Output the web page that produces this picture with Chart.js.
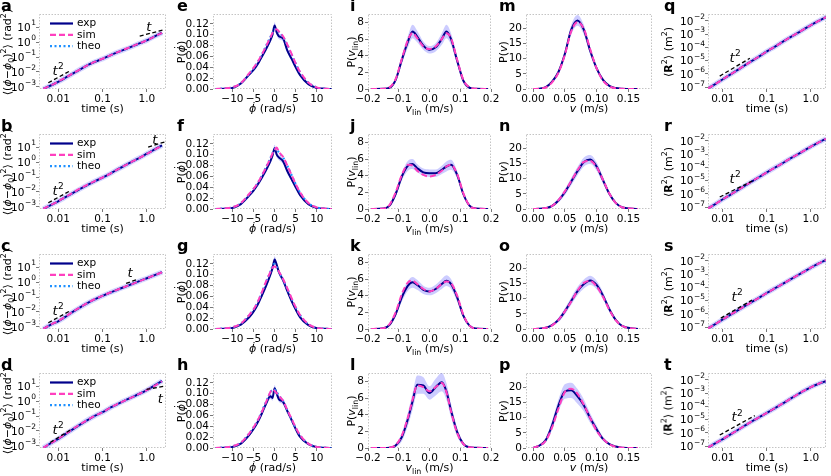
<!DOCTYPE html>
<html>
<head>
<meta charset="utf-8">
<script src="https://cdn.jsdelivr.net/npm/chart.js@4.4.0/dist/chart.umd.min.js"></script>
<style>
  body { margin: 0; width: 831px; height: 476px; position: relative; overflow: hidden; background: #fff; font-family: 'DejaVu Sans', sans-serif; color: #000; }
  .panel { position: absolute; }
  .letter { position: absolute; font-weight: bold; font-size: 16px; line-height: 16px; }
  .xt { position: absolute; font-size: 11px; line-height: 13px; white-space: nowrap; transform: translateX(-50%); }
  .yt { position: absolute; font-size: 11px; line-height: 13px; white-space: nowrap; transform: translate(-50%, -50%) rotate(-90deg); }
  sup, sub { font-size: 0.72em; line-height: 0; }
</style>
</head>
<body>
<script>
// ===== data =====
const msdTime = [0.0046, 0.007, 0.01, 0.015, 0.02, 0.03, 0.05, 0.07, 0.1, 0.15, 0.2, 0.3, 0.5, 0.7, 1.0, 1.5, 2.2];

// angular MSD (rad^2), panels a-d
const expA  = [7.4e-4, 1.3e-3, 2.2e-3, 4.3e-3, 7.0e-3, 1.4e-2, 3.2e-2, 5.0e-2, 7.5e-2, 0.13, 0.19, 0.30, 0.55, 0.85, 1.3, 2.4, 4.2];
const simA  = [7.6e-4, 1.3e-3, 2.3e-3, 4.4e-3, 7.1e-3, 1.4e-2, 3.2e-2, 5.1e-2, 7.7e-2, 0.13, 0.19, 0.31, 0.56, 0.86, 1.3, 2.4, 4.1];
const theoA = [7.5e-4, 1.3e-3, 2.2e-3, 4.3e-3, 7.1e-3, 1.4e-2, 3.3e-2, 5.1e-2, 7.6e-2, 0.13, 0.19, 0.30, 0.55, 0.85, 1.3, 2.3, 4.0];
const expB  = [7.4e-4, 1.4e-3, 2.4e-3, 4.7e-3, 7.6e-3, 1.5e-2, 3.4e-2, 5.6e-2, 9.2e-2, 0.17, 0.28, 0.53, 1.2, 2.0, 3.6, 7.0, 13];
const simB  = [7.5e-4, 1.4e-3, 2.4e-3, 4.8e-3, 7.8e-3, 1.6e-2, 3.5e-2, 5.7e-2, 9.3e-2, 0.17, 0.28, 0.53, 1.2, 2.0, 3.5, 6.8, 12.5];
const theoB = [7.4e-4, 1.4e-3, 2.4e-3, 4.7e-3, 7.7e-3, 1.5e-2, 3.4e-2, 5.6e-2, 9.1e-2, 0.17, 0.28, 0.52, 1.2, 2.0, 3.6, 6.9, 12.8];
const expC  = [7.4e-4, 1.5e-3, 2.4e-3, 5.0e-3, 9.0e-3, 1.9e-2, 4.5e-2, 7.5e-2, 0.12, 0.20, 0.28, 0.45, 0.80, 1.2, 1.8, 2.9, 4.6];
const simC  = [7.5e-4, 1.5e-3, 2.5e-3, 5.1e-3, 9.1e-3, 1.9e-2, 4.6e-2, 7.6e-2, 0.12, 0.20, 0.28, 0.45, 0.79, 1.2, 1.8, 2.9, 4.5];
const theoC = [7.4e-4, 1.5e-3, 2.4e-3, 5.0e-3, 9.0e-3, 1.9e-2, 4.5e-2, 7.4e-2, 0.12, 0.19, 0.27, 0.44, 0.79, 1.2, 1.8, 2.9, 4.6];
const expD  = [7.4e-4, 1.6e-3, 3.0e-3, 6.5e-3, 1.15e-2, 2.5e-2, 6.3e-2, 0.11, 0.18, 0.36, 0.55, 1.0, 2.0, 3.2, 5.4, 11, 22];
const simD  = [7.5e-4, 1.6e-3, 3.0e-3, 6.6e-3, 1.2e-2, 2.6e-2, 6.4e-2, 0.11, 0.18, 0.36, 0.56, 1.0, 2.0, 3.2, 5.3, 10.5, 21];
const theoD = [7.4e-4, 1.6e-3, 3.0e-3, 6.5e-3, 1.15e-2, 2.5e-2, 6.3e-2, 0.11, 0.18, 0.35, 0.55, 1.0, 2.0, 3.1, 5.3, 10.8, 21.5];

// translational MSD (m^2), panels q-t
const expQ  = [7.9e-8, 1.9e-7, 4.0e-7, 9.3e-7, 1.7e-6, 4.0e-6, 1.15e-5, 2.3e-5, 4.9e-5, 1.1e-4, 2.0e-4, 4.5e-4, 1.2e-3, 2.3e-3, 4.7e-3, 9.8e-3, 1.9e-2];
const simQ  = [8.0e-8, 1.9e-7, 4.0e-7, 9.4e-7, 1.7e-6, 4.0e-6, 1.16e-5, 2.3e-5, 4.9e-5, 1.1e-4, 2.0e-4, 4.5e-4, 1.2e-3, 2.3e-3, 4.7e-3, 9.7e-3, 1.9e-2];
const theoQ = [7.9e-8, 1.9e-7, 4.0e-7, 9.3e-7, 1.7e-6, 4.0e-6, 1.15e-5, 2.3e-5, 4.8e-5, 1.1e-4, 2.0e-4, 4.4e-4, 1.2e-3, 2.3e-3, 4.6e-3, 9.6e-3, 1.85e-2];
const expR  = [8.0e-8, 1.9e-7, 4.0e-7, 9.0e-7, 1.6e-6, 3.7e-6, 1.05e-5, 2.05e-5, 4.2e-5, 9.3e-5, 1.6e-4, 3.6e-4, 9.5e-4, 1.8e-3, 3.6e-3, 7.5e-3, 1.4e-2];
const simR  = [8.0e-8, 1.9e-7, 4.0e-7, 9.1e-7, 1.6e-6, 3.7e-6, 1.06e-5, 2.05e-5, 4.2e-5, 9.4e-5, 1.6e-4, 3.6e-4, 9.5e-4, 1.8e-3, 3.6e-3, 7.4e-3, 1.4e-2];
const theoR = [8.0e-8, 1.9e-7, 4.0e-7, 9.0e-7, 1.6e-6, 3.7e-6, 1.05e-5, 2.0e-5, 4.2e-5, 9.2e-5, 1.6e-4, 3.5e-4, 9.4e-4, 1.8e-3, 3.5e-3, 7.3e-3, 1.35e-2];
const expS  = [8.0e-8, 1.9e-7, 3.9e-7, 8.8e-7, 1.55e-6, 3.5e-6, 9.5e-6, 1.85e-5, 3.8e-5, 8.2e-5, 1.4e-4, 3.1e-4, 8.0e-4, 1.5e-3, 3.0e-3, 6.2e-3, 1.15e-2];
const simS  = [8.0e-8, 1.9e-7, 3.9e-7, 8.9e-7, 1.55e-6, 3.5e-6, 9.6e-6, 1.85e-5, 3.8e-5, 8.3e-5, 1.4e-4, 3.1e-4, 8.0e-4, 1.5e-3, 3.0e-3, 6.1e-3, 1.15e-2];
const theoS = [8.0e-8, 1.9e-7, 3.9e-7, 8.8e-7, 1.55e-6, 3.5e-6, 9.5e-6, 1.8e-5, 3.8e-5, 8.1e-5, 1.4e-4, 3.0e-4, 7.9e-4, 1.5e-3, 2.9e-3, 6.0e-3, 1.1e-2];
const expT  = [7.9e-8, 1.8e-7, 3.5e-7, 7.9e-7, 1.4e-6, 3.2e-6, 8.9e-6, 1.66e-5, 3.2e-5, 7.1e-5, 1.26e-4, 2.8e-4, 7.9e-4, 1.5e-3, 2.8e-3, 5.0e-3, 7.9e-3];
const simT  = [8.0e-8, 1.8e-7, 3.5e-7, 8.0e-7, 1.4e-6, 3.2e-6, 9.0e-6, 1.67e-5, 3.2e-5, 7.2e-5, 1.27e-4, 2.8e-4, 8.0e-4, 1.5e-3, 2.8e-3, 5.1e-3, 8.1e-3];
const theoT = [7.9e-8, 1.8e-7, 3.5e-7, 7.9e-7, 1.4e-6, 3.2e-6, 8.9e-6, 1.65e-5, 3.2e-5, 7.0e-5, 1.25e-4, 2.8e-4, 7.8e-4, 1.5e-3, 2.8e-3, 5.0e-3, 7.8e-3];

// guide lines [t, value] and their labels
const guideT2A = [[0.006, 1.9e-3], [0.0186, 1.2e-2]];
const guideTA  = [[0.69, 2.5], [2.3, 6.3]];
const guideT2B = [[0.006, 1.9e-3], [0.0186, 1.2e-2]];
const guideTB  = [[1.07, 10], [2.5, 22]];
const guideT2C = [[0.006, 1.9e-3], [0.0186, 1.2e-2]];
const guideTC  = [[0.34, 0.82], [0.59, 1.45]];
const guideT2D = [[0.0066, 1.7e-3], [0.0186, 1.15e-2]];
const guideTD  = [[0.98, 6], [2.5, 10]];
const guideT2Q = [[0.0085, 6.9e-7], [0.041, 1.5e-5]];
const guideT2R = [[0.0085, 5.9e-7], [0.046, 9.3e-6]];
const guideT2S = [[0.009, 4.9e-7], [0.046, 1.1e-5]];
const guideT2T = [[0.0085, 7.0e-7], [0.053, 2.0e-5]];
const notesA = [{x: 0.01, y: 1.35e-2, sup: '2'}, {x: 1.1, y: 11.7}];
const notesB = [{x: 0.01, y: 1.35e-2, sup: '2'}, {x: 1.5, y: 31}];
const notesC = [{x: 0.01, y: 1.35e-2, sup: '2'}, {x: 0.42, y: 4.6}];
const notesD = [{x: 0.01, y: 1.3e-2, sup: '2'}, {x: 2.0, y: 1.6}];
const notesQ = [{x: 0.019, y: 1.9e-5, sup: '2'}];
const notesR = [{x: 0.019, y: 1.6e-5, sup: '2'}];
const notesS = [{x: 0.021, y: 2.2e-5, sup: '2'}];
const notesT = [{x: 0.021, y: 1.7e-5, sup: '2'}];
const legendLabels = ['exp', 'sim', 'theo'];

// angular velocity distributions, panels e-h
const phiDotX = [-14, -12, -10, -8, -6, -5, -4, -3, -2, -1, -0.5, 0, 0.5, 1, 2, 3, 4, 5, 6, 8, 10, 12, 13.5];
const expE  = [0, 0.0005, 0.002, 0.010, 0.027, 0.035, 0.046, 0.060, 0.074, 0.090, 0.100, 0.117, 0.104, 0.097, 0.093, 0.071, 0.056, 0.040, 0.026, 0.009, 0.002, 0.0005, 0];
const simE  = [0, 0.001, 0.003, 0.011, 0.029, 0.039, 0.050, 0.064, 0.079, 0.095, 0.103, 0.108, 0.110, 0.106, 0.097, 0.082, 0.065, 0.047, 0.032, 0.012, 0.003, 0.0005, 0];
const theoE = [0, 0.001, 0.003, 0.011, 0.028, 0.038, 0.050, 0.064, 0.080, 0.096, 0.104, 0.110, 0.109, 0.105, 0.096, 0.081, 0.064, 0.047, 0.031, 0.012, 0.003, 0.0005, 0];
const expF  = [0, 0.0005, 0.002, 0.009, 0.025, 0.034, 0.045, 0.058, 0.072, 0.088, 0.098, 0.112, 0.100, 0.095, 0.088, 0.070, 0.055, 0.040, 0.026, 0.009, 0.002, 0.0005, 0];
const simF  = [0, 0.001, 0.003, 0.011, 0.028, 0.037, 0.048, 0.062, 0.077, 0.093, 0.102, 0.108, 0.113, 0.105, 0.096, 0.080, 0.063, 0.046, 0.031, 0.011, 0.003, 0.0005, 0];
const theoF = [0, 0.001, 0.003, 0.011, 0.027, 0.037, 0.048, 0.062, 0.078, 0.094, 0.103, 0.110, 0.110, 0.104, 0.095, 0.080, 0.063, 0.046, 0.031, 0.011, 0.003, 0.0005, 0];
const expG  = [0, 0.0005, 0.002, 0.008, 0.022, 0.032, 0.045, 0.062, 0.080, 0.100, 0.112, 0.128, 0.118, 0.105, 0.090, 0.070, 0.052, 0.036, 0.022, 0.007, 0.0015, 0.0003, 0];
const simG  = [0, 0.001, 0.003, 0.010, 0.026, 0.036, 0.050, 0.068, 0.088, 0.105, 0.113, 0.115, 0.112, 0.106, 0.092, 0.075, 0.057, 0.040, 0.026, 0.009, 0.002, 0.0004, 0];
const theoG = [0, 0.001, 0.003, 0.010, 0.026, 0.036, 0.050, 0.068, 0.087, 0.106, 0.116, 0.120, 0.114, 0.105, 0.091, 0.074, 0.056, 0.040, 0.026, 0.009, 0.002, 0.0004, 0];
const expH  = [0, 0.0005, 0.002, 0.008, 0.024, 0.035, 0.048, 0.064, 0.082, 0.095, 0.092, 0.110, 0.100, 0.090, 0.085, 0.068, 0.052, 0.035, 0.021, 0.007, 0.0015, 0.0003, 0];
const simH  = [0, 0.001, 0.003, 0.010, 0.027, 0.038, 0.051, 0.067, 0.085, 0.103, 0.108, 0.105, 0.101, 0.096, 0.087, 0.070, 0.054, 0.038, 0.024, 0.008, 0.002, 0.0004, 0];
const theoH = [0, 0.001, 0.003, 0.010, 0.027, 0.038, 0.051, 0.068, 0.086, 0.102, 0.107, 0.107, 0.103, 0.097, 0.087, 0.070, 0.053, 0.037, 0.024, 0.008, 0.002, 0.0004, 0];
const errPhi = [0, 0.0003, 0.001, 0.002, 0.003, 0.003, 0.004, 0.004, 0.005, 0.005, 0.005, 0.006, 0.005, 0.005, 0.005, 0.004, 0.004, 0.003, 0.003, 0.002, 0.001, 0.0003, 0];

// linear velocity distributions, panels i-l
const vlinX = [-0.19, -0.15, -0.13, -0.11, -0.09, -0.07, -0.055, -0.04, -0.02, 0, 0.02, 0.04, 0.055, 0.07, 0.09, 0.11, 0.13, 0.15, 0.19];
const expI = [0, 0.02, 0.15, 1.1, 3.5, 5.7, 6.9, 6.3, 5.2, 4.7, 5.0, 6.0, 6.9, 6.0, 3.4, 1.0, 0.15, 0.02, 0];
const simI = [0, 0.03, 0.2, 1.2, 3.6, 5.9, 6.7, 6.1, 5.1, 4.8, 5.1, 6.0, 6.7, 6.1, 3.5, 1.1, 0.2, 0.03, 0];
const errI = [0, 0.02, 0.1, 0.3, 0.5, 0.7, 0.8, 0.7, 0.5, 0.45, 0.5, 0.7, 0.8, 0.7, 0.5, 0.3, 0.1, 0.02, 0];
const expJ = [0, 0.05, 0.4, 1.8, 3.9, 5.2, 5.4, 4.9, 4.4, 4.3, 4.3, 4.7, 5.1, 5.3, 4.1, 1.8, 0.4, 0.05, 0];
const simJ = [0, 0.05, 0.5, 2.0, 4.1, 5.3, 5.2, 4.6, 4.1, 3.9, 4.1, 4.6, 5.1, 5.3, 4.2, 1.9, 0.4, 0.05, 0];
const errJ = [0, 0.02, 0.1, 0.3, 0.45, 0.6, 0.6, 0.5, 0.45, 0.45, 0.45, 0.5, 0.6, 0.6, 0.45, 0.3, 0.1, 0.02, 0];
const expK = [0, 0.08, 0.5, 1.8, 3.8, 5.2, 5.6, 5.3, 4.7, 4.5, 4.8, 5.4, 5.8, 5.4, 3.8, 1.6, 0.4, 0.05, 0];
const simK = [0, 0.1, 0.6, 2.0, 4.2, 5.6, 5.8, 5.4, 4.8, 4.5, 4.8, 5.4, 5.7, 5.5, 4.0, 1.7, 0.4, 0.05, 0];
const errK = [0, 0.02, 0.1, 0.3, 0.5, 0.6, 0.65, 0.6, 0.5, 0.45, 0.5, 0.6, 0.65, 0.6, 0.5, 0.3, 0.1, 0.02, 0];
const expL = [0, 0, 0.03, 0.3, 1.3, 3.5, 5.6, 7.6, 7.5, 6.6, 7.3, 7.9, 6.8, 4.5, 1.9, 0.5, 0.08, 0.02, 0];
const simL = [0, 0, 0.05, 0.35, 1.5, 3.7, 5.8, 7.5, 7.3, 6.8, 7.3, 7.8, 6.7, 4.4, 1.8, 0.5, 0.08, 0.02, 0];
const errL = [0, 0, 0.02, 0.2, 0.5, 0.8, 1.0, 1.1, 1.0, 0.8, 1.0, 1.1, 1.0, 0.8, 0.5, 0.2, 0.05, 0.01, 0];

// speed distributions, panels m-p
const speedX = [0, 0.01, 0.02, 0.03, 0.04, 0.05, 0.06, 0.07, 0.08, 0.09, 0.10, 0.11, 0.12, 0.13, 0.14, 0.165];
const expM = [0, 0.1, 0.6, 2.4, 5.6, 11.5, 19.5, 22.6, 19.5, 12.5, 6.8, 3.0, 1.0, 0.3, 0.1, 0];
const simM = [0, 0.1, 0.5, 2.2, 5.4, 11.2, 19.0, 22.0, 19.8, 13.0, 6.8, 2.8, 0.9, 0.2, 0.05, 0];
const errM = [0, 0.05, 0.2, 0.5, 0.8, 1.2, 1.6, 1.8, 1.6, 1.2, 0.8, 0.5, 0.2, 0.1, 0.05, 0];
const expN = [0, 0.05, 0.3, 1.0, 2.8, 5.5, 9.0, 12.5, 15.5, 16.3, 14.0, 9.5, 5.0, 2.0, 0.6, 0];
const simN = [0, 0.05, 0.3, 1.0, 2.9, 5.8, 9.2, 12.8, 15.5, 15.8, 13.8, 9.6, 5.1, 2.0, 0.6, 0];
const errN = [0, 0.05, 0.2, 0.4, 0.7, 1.0, 1.2, 1.4, 1.5, 1.5, 1.4, 1.1, 0.7, 0.4, 0.1, 0];
const expO = [0, 0.1, 0.4, 1.3, 3.0, 5.8, 9.2, 12.5, 14.8, 16.0, 14.5, 11.0, 6.5, 3.0, 1.0, 0];
const simO = [0, 0.1, 0.4, 1.2, 3.0, 5.8, 9.0, 12.6, 15.2, 15.8, 14.0, 10.6, 6.3, 2.9, 1.0, 0];
const errO = [0, 0.05, 0.2, 0.4, 0.7, 1.0, 1.2, 1.4, 1.5, 1.5, 1.4, 1.2, 0.8, 0.4, 0.15, 0];
const expP = [0, 0.8, 2.6, 7.5, 14.0, 18.6, 19.0, 17.0, 14.0, 9.8, 6.2, 3.0, 1.3, 0.5, 0.1, 0];
const simP = [0, 0.8, 2.4, 6.8, 13.0, 18.4, 19.5, 17.8, 14.2, 9.8, 5.7, 3.0, 1.2, 0.4, 0.1, 0];
const errP = [0, 0.3, 0.8, 1.5, 2.0, 2.4, 2.5, 2.4, 2.0, 1.6, 1.2, 0.7, 0.3, 0.15, 0.05, 0];

// tick values
const msdTicksX = [0.01, 0.1, 1];
const phiTicksY = [1e-3, 1e-2, 1e-1, 1, 10];
const r2TicksY = [1e-7, 1e-6, 1e-5, 1e-4, 1e-3, 1e-2];
const phiDotTicksX = [-10, -5, 0, 5, 10];
const phiDotTicksY = [0, 0.02, 0.04, 0.06, 0.08, 0.10, 0.12];
const vlinTicksX = [-0.2, -0.1, 0, 0.1, 0.2];
const vlinTicksY = [0, 2, 4, 6, 8];
const speedTicksX = [0, 0.05, 0.1, 0.15];
const speedTicksY = [0, 5, 10, 15, 20];

// ===== layout =====
const COLS = [{l: 39, r: 166}, {l: 213, r: 332}, {l: 368, r: 491}, {l: 526, r: 652}, {l: 708, r: 826}];
const ROWS = [14, 134, 254, 373];
const PLOT_H = 75, PAD_L = 34, PAD_T = 8, PAD_R = 10, PAD_B = 16;
const LETTER_X = [1, 177, 350, 499, 664];
const YTITLE_X = [7, 181, 351, 503, 668];

const NAVY = '#00008b', PINK = '#ff3fbf', SKY = '#1e90ff';
const BAND = 'rgba(110,110,255,0.35)', GLOW = 'rgba(120,120,255,0.3)';

Chart.defaults.font.family = "'DejaVu Sans', sans-serif";
Chart.defaults.color = '#000';

const minus = s => s.replace('-', '−');
const fmtTime = v => v >= 1 ? v.toFixed(1) : String(v);

function pts(xs, ys) { return xs.map((x, i) => ({x, y: ys[i]})); }

function curve(xs, ys, color, dash, width) {
  return { data: pts(xs, ys), borderColor: color, borderDash: dash, borderWidth: width,
    pointRadius: 0, fill: false, cubicInterpolationMode: 'monotone' };
}

function band(xs, ys, err) {
  return [
    { data: xs.map((x, i) => ({x, y: ys[i] + err[i]})), borderWidth: 0, pointRadius: 0, fill: false, cubicInterpolationMode: 'monotone' },
    { data: xs.map((x, i) => ({x, y: Math.max(ys[i] - err[i], 0)})), borderWidth: 0, pointRadius: 0,
      fill: '-1', backgroundColor: BAND, cubicInterpolationMode: 'monotone' },
  ];
}

function guide(p) {
  return { data: p.map(q => ({x: q[0], y: q[1]})), borderColor: '#000', borderDash: [4, 2.5],
    borderWidth: 1.3, pointRadius: 0, fill: false };
}

const framePlugin = {
  id: 'frame',
  beforeDatasetsDraw(chart) {
    const {ctx, chartArea: a} = chart;
    ctx.save();
    ctx.strokeStyle = '#c4c4c4';
    ctx.lineWidth = 1;
    ctx.setLineDash([1.5, 1.5]);
    ctx.strokeRect(a.left + 0.5, a.top + 0.5, a.right - a.left - 1, a.bottom - a.top - 1);
    ctx.restore();
  },
};

// power-of-ten labels for the log y axes, with a proper raised exponent
const powTickPlugin = {
  id: 'powTicks',
  afterDraw(chart) {
    const s = chart.scales.y;
    if (s.type !== 'logarithmic') return;
    const ctx = chart.ctx, right = chart.chartArea.left - 3;
    ctx.save();
    ctx.fillStyle = '#000';
    ctx.textAlign = 'left';
    ctx.textBaseline = 'alphabetic';
    for (const t of s.ticks) {
      const py = s.getPixelForValue(t.value);
      const e = minus(String(Math.round(Math.log10(t.value))));
      ctx.font = "7.5px 'DejaVu Sans'";
      const ew = ctx.measureText(e).width;
      ctx.font = "10.5px 'DejaVu Sans'";
      const bw = ctx.measureText('10').width;
      const x0 = right - ew - bw - 0.5;
      ctx.fillText('10', x0, py + 3.8);
      ctx.font = "7.5px 'DejaVu Sans'";
      ctx.fillText(e, x0 + bw + 0.5, py - 1.6);
    }
    ctx.restore();
  },
};

function notesPlugin(items) {
  return {
    id: 'notes',
    afterDatasetsDraw(chart) {
      const {ctx} = chart, sx = chart.scales.x, sy = chart.scales.y;
      ctx.save();
      ctx.fillStyle = '#000';
      ctx.textAlign = 'left';
      ctx.textBaseline = 'alphabetic';
      for (const n of items) {
        const px = sx.getPixelForValue(n.x), py = sy.getPixelForValue(n.y);
        ctx.font = "italic 13px 'DejaVu Sans'";
        const w = ctx.measureText('t').width;
        let tw = w;
        if (n.sup) { ctx.font = "9px 'DejaVu Sans'"; tw += ctx.measureText(n.sup).width + 0.5; }
        const x0 = px - tw / 2;
        ctx.font = "italic 13px 'DejaVu Sans'";
        ctx.fillText('t', x0, py + 4.7);
        if (n.sup) { ctx.font = "9px 'DejaVu Sans'"; ctx.fillText(n.sup, x0 + w + 0.5, py - 1); }
      }
      ctx.restore();
    },
  };
}

const legendPlugin = {
  id: 'inlegend',
  afterDatasetsDraw(chart) {
    const {ctx, chartArea: a} = chart;
    const styles = [[NAVY, []], [PINK, [6, 3]], [SKY, [2, 2.5]]];
    ctx.save();
    ctx.font = "10.5px 'DejaVu Sans'";
    ctx.textBaseline = 'middle';
    legendLabels.forEach((label, i) => {
      const y = a.top + 9.5 + i * 11.3;
      ctx.strokeStyle = styles[i][0];
      ctx.lineWidth = 2.2;
      ctx.setLineDash(styles[i][1]);
      ctx.beginPath();
      ctx.moveTo(a.left + 11, y);
      ctx.lineTo(a.left + 34, y);
      ctx.stroke();
      ctx.fillStyle = '#000';
      ctx.fillText(label, a.left + 38, y);
    });
    ctx.restore();
  },
};

function axis(a, dir) {
  return {
    type: a.type, min: a.min, max: a.max,
    afterBuildTicks: s => { s.ticks = a.ticks.map(v => ({value: v})); },
    afterFit: s => { if (dir === 'x') s.height = PAD_B; else s.width = PAD_L; },
    ticks: { display: !a.pow, callback: a.fmt, font: {size: 10.5}, color: '#000', padding: 1, maxRotation: 0, autoSkip: false },
    grid: { drawOnChartArea: false, drawTicks: true, tickLength: 3, color: '#555', lineWidth: 0.8 },
    border: { display: false },
  };
}

const msdAxisX = { type: 'logarithmic', min: 0.0037, max: 2.7, ticks: msdTicksX, fmt: fmtTime };
const r2AxisX  = { type: 'logarithmic', min: 0.0046, max: 2.2, ticks: msdTicksX, fmt: fmtTime };
const phiAxisY = { type: 'logarithmic', min: 7.3e-4, max: 75, ticks: phiTicksY, pow: true };
const r2AxisY  = { type: 'logarithmic', min: 7.4e-8, max: 0.032, ticks: r2TicksY, pow: true };
const phiDotAxisX = { type: 'linear', min: -14.6, max: 13.6, ticks: phiDotTicksX, fmt: v => minus(String(v)) };
const phiDotAxisY = { type: 'linear', min: 0, max: 0.138, ticks: phiDotTicksY, fmt: v => v.toFixed(2) };
const vlinAxisX = { type: 'linear', min: -0.2, max: 0.2, ticks: vlinTicksX, fmt: v => minus(v.toFixed(1)) };
const vlinAxisY = { type: 'linear', min: 0, max: 9, ticks: vlinTicksY, fmt: v => String(v) };
const speedAxisX = { type: 'linear', min: -0.011, max: 0.187, ticks: speedTicksX, fmt: v => v.toFixed(2) };
const speedAxisY = { type: 'linear', min: 0, max: 24.7, ticks: speedTicksY, fmt: v => String(v) };

function addText(cls, html, left, top) {
  const d = document.createElement('div');
  d.className = cls;
  d.innerHTML = html;
  d.style.left = left + 'px';
  d.style.top = top + 'px';
  document.body.appendChild(d);
}

function makePanel(col, row, letter, xAxis, yAxis, datasets, extra, xTitle, yTitle) {
  const c = COLS[col], top = ROWS[row];
  const div = document.createElement('div');
  div.className = 'panel';
  div.style.left = (c.l - PAD_L) + 'px';
  div.style.top = (top - PAD_T) + 'px';
  div.style.width = (c.r - c.l + PAD_L + PAD_R) + 'px';
  div.style.height = (PLOT_H + PAD_T + PAD_B) + 'px';
  const cv = document.createElement('canvas');
  div.appendChild(cv);
  document.body.appendChild(div);

  new Chart(cv, {
    type: 'line',
    data: { datasets },
    options: {
      responsive: true,
      maintainAspectRatio: false,
      animation: false,
      devicePixelRatio: 1,
      layout: { padding: { top: PAD_T, right: PAD_R, left: 0, bottom: 0 } },
      plugins: { legend: { display: false }, tooltip: { enabled: false } },
      scales: { x: axis(xAxis, 'x'), y: axis(yAxis, 'y') },
    },
    plugins: [framePlugin, powTickPlugin, ...extra],
  });

  addText('letter', letter, LETTER_X[col], top - 16);
  addText('xt', xTitle, (c.l + c.r) / 2, top + PLOT_H + 13);
  addText('yt', yTitle, YTITLE_X[col], top + PLOT_H / 2);
}

function msdSets(g2, g1, exp, sim, theo) {
  const sets = [guide(g2)];
  if (g1) sets.push(guide(g1));
  sets.push(curve(msdTime, sim, PINK, [6, 3], 2));
  sets.push(curve(msdTime, theo, SKY, [2, 2.5], 2));
  sets.push(curve(msdTime, exp, NAVY, [], 2));
  sets.push(curve(msdTime, exp, GLOW, [], 5));
  return sets;
}

function distSets(xs, exp, sim, theo, err) {
  const sets = [curve(xs, sim, PINK, [6, 3], 2)];
  if (theo) sets.push(curve(xs, theo, SKY, [2, 2.5], 2));
  sets.push(curve(xs, exp, NAVY, [], 2));
  return sets.concat(band(xs, exp, err));
}

const Y_PHI = '⟨(<i>ϕ</i>−<i>ϕ</i><sub>0</sub>)<sup>2</sup>⟩ (rad<sup>2</sup>)';
const Y_PHIDOT = 'P(<i>ϕ&#775;</i>)';
const Y_VLIN = 'P(<i>v</i><sub>lin</sub>)';
const Y_SPEED = 'P(<i>v</i>)';
const Y_R2 = '⟨<b>R</b><sup>2</sup>⟩ (m<sup>2</sup>)';
const X_TIME = 'time (s)';
const X_PHIDOT = '<i>ϕ&#775;</i> (rad/s)';
const X_VLIN = '<i>v</i><sub>lin</sub> (m/s)';
const X_SPEED = '<i>v</i> (m/s)';

// column 1: angular MSD
makePanel(0, 0, 'a', msdAxisX, phiAxisY, msdSets(guideT2A, guideTA, expA, simA, theoA), [legendPlugin, notesPlugin(notesA)], X_TIME, Y_PHI);
makePanel(0, 1, 'b', msdAxisX, phiAxisY, msdSets(guideT2B, guideTB, expB, simB, theoB), [legendPlugin, notesPlugin(notesB)], X_TIME, Y_PHI);
makePanel(0, 2, 'c', msdAxisX, phiAxisY, msdSets(guideT2C, guideTC, expC, simC, theoC), [legendPlugin, notesPlugin(notesC)], X_TIME, Y_PHI);
makePanel(0, 3, 'd', msdAxisX, phiAxisY, msdSets(guideT2D, guideTD, expD, simD, theoD), [legendPlugin, notesPlugin(notesD)], X_TIME, Y_PHI);

// column 2: angular velocity
makePanel(1, 0, 'e', phiDotAxisX, phiDotAxisY, distSets(phiDotX, expE, simE, theoE, errPhi), [], X_PHIDOT, Y_PHIDOT);
makePanel(1, 1, 'f', phiDotAxisX, phiDotAxisY, distSets(phiDotX, expF, simF, theoF, errPhi), [], X_PHIDOT, Y_PHIDOT);
makePanel(1, 2, 'g', phiDotAxisX, phiDotAxisY, distSets(phiDotX, expG, simG, theoG, errPhi), [], X_PHIDOT, Y_PHIDOT);
makePanel(1, 3, 'h', phiDotAxisX, phiDotAxisY, distSets(phiDotX, expH, simH, theoH, errPhi), [], X_PHIDOT, Y_PHIDOT);

// column 3: linear velocity
makePanel(2, 0, 'i', vlinAxisX, vlinAxisY, distSets(vlinX, expI, simI, null, errI), [], X_VLIN, Y_VLIN);
makePanel(2, 1, 'j', vlinAxisX, vlinAxisY, distSets(vlinX, expJ, simJ, null, errJ), [], X_VLIN, Y_VLIN);
makePanel(2, 2, 'k', vlinAxisX, vlinAxisY, distSets(vlinX, expK, simK, null, errK), [], X_VLIN, Y_VLIN);
makePanel(2, 3, 'l', vlinAxisX, vlinAxisY, distSets(vlinX, expL, simL, null, errL), [], X_VLIN, Y_VLIN);

// column 4: speed
makePanel(3, 0, 'm', speedAxisX, speedAxisY, distSets(speedX, expM, simM, null, errM), [], X_SPEED, Y_SPEED);
makePanel(3, 1, 'n', speedAxisX, speedAxisY, distSets(speedX, expN, simN, null, errN), [], X_SPEED, Y_SPEED);
makePanel(3, 2, 'o', speedAxisX, speedAxisY, distSets(speedX, expO, simO, null, errO), [], X_SPEED, Y_SPEED);
makePanel(3, 3, 'p', speedAxisX, speedAxisY, distSets(speedX, expP, simP, null, errP), [], X_SPEED, Y_SPEED);

// column 5: translational MSD
makePanel(4, 0, 'q', r2AxisX, r2AxisY, msdSets(guideT2Q, null, expQ, simQ, theoQ), [notesPlugin(notesQ)], X_TIME, Y_R2);
makePanel(4, 1, 'r', r2AxisX, r2AxisY, msdSets(guideT2R, null, expR, simR, theoR), [notesPlugin(notesR)], X_TIME, Y_R2);
makePanel(4, 2, 's', r2AxisX, r2AxisY, msdSets(guideT2S, null, expS, simS, theoS), [notesPlugin(notesS)], X_TIME, Y_R2);
makePanel(4, 3, 't', r2AxisX, r2AxisY, msdSets(guideT2T, null, expT, simT, theoT), [notesPlugin(notesT)], X_TIME, Y_R2);
</script>
</body>
</html>
